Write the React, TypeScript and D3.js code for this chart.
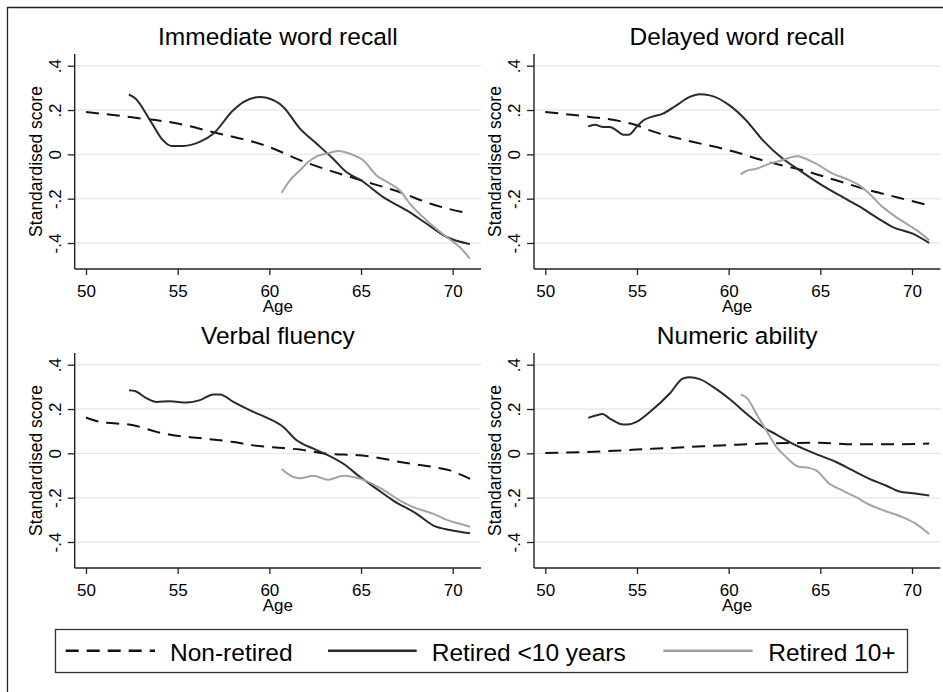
import React, { useRef, useEffect } from "react";
import * as d3 from "d3";

const panelTitles = ["Immediate word recall", "Delayed word recall", "Verbal fluency", "Numeric ability"];
const seriesNames = ["Non-retired", "Retired <10 years", "Retired 10+"];
const xTicks = [50, 55, 60, 65, 70];
const yTicks = [0.4, 0.2, 0, -0.2, -0.4];
const yTickLabels = [".4", ".2", "0", "-.2", "-.4"];

// [age, standardised score]
const immediateNonRetired = [
  [50, 0.191], [52.6, 0.166], [55, 0.139], [56.9, 0.101], [60, 0.033], [61.7, -0.027],
  [65, -0.117], [67.1, -0.17], [68.8, -0.223], [70.94, -0.268],
];
const immediateRetired = [
  [52.34, 0.27], [52.67, 0.254], [53.5, 0.153], [54.2, 0.063], [54.67, 0.038], [55.3, 0.038],
  [56.2, 0.056], [56.94, 0.093], [58.03, 0.199], [58.58, 0.236], [59.49, 0.259], [59.85, 0.255],
  [60.76, 0.214], [61.67, 0.116], [62.58, 0.048], [63.48, -0.02], [64.2, -0.08], [65, -0.117],
  [66.21, -0.193], [67.49, -0.253], [68.58, -0.313], [69.67, -0.373], [70.94, -0.405],
];
const immediateRetired10 = [
  [60.67, -0.173], [61.12, -0.117], [61.67, -0.072], [62.12, -0.035], [62.58, -0.009], [63.12, 0.003],
  [63.76, 0.015], [64.39, 0.003], [65.12, -0.027], [65.85, -0.095], [66.58, -0.132], [67.12, -0.163],
  [67.67, -0.223], [68.58, -0.298], [69.67, -0.373], [70.39, -0.419], [70.94, -0.471],
];

const delayedNonRetired = [
  [50, 0.191], [52.43, 0.169], [54.07, 0.15], [54.97, 0.131], [55.7, 0.108], [57.7, 0.063],
  [60.05, 0.018], [62.2, -0.035], [64.05, -0.072], [65.86, -0.117], [67.7, -0.163], [68.77, -0.185],
  [69.85, -0.208], [70.94, -0.23],
];
const delayedRetired = [
  [52.34, 0.126], [52.7, 0.134], [53.16, 0.123], [53.52, 0.123], [53.88, 0.108], [54.25, 0.089],
  [54.57, 0.089], [54.97, 0.123], [55.34, 0.153], [55.79, 0.169], [56.42, 0.184], [57.15, 0.221],
  [57.88, 0.259], [58.42, 0.271], [58.97, 0.266], [60.05, 0.221], [60.96, 0.153], [61.87, 0.063],
  [62.96, -0.02], [63.87, -0.072], [64.95, -0.132], [66.22, -0.193], [67.13, -0.235], [68.04, -0.283],
  [68.95, -0.328], [70.04, -0.358], [70.94, -0.4],
];
const delayedRetired10 = [
  [60.65, -0.09], [60.96, -0.075], [61.5, -0.065], [62.23, -0.042], [62.78, -0.03], [63.32, -0.015],
  [63.77, -0.009], [64.05, -0.015], [64.77, -0.042], [65.68, -0.087], [66.4, -0.11], [67.13, -0.14],
  [67.68, -0.178], [68.4, -0.238], [69.13, -0.283], [69.85, -0.321], [70.4, -0.351], [70.94, -0.388],
];

const fluencyNonRetired = [
  [50, 0.162], [50.76, 0.142], [52.58, 0.127], [53.85, 0.097], [54.76, 0.082], [56.2, 0.069],
  [58.04, 0.051], [59.13, 0.036], [60.76, 0.024], [61.67, 0.017], [63.13, -0.002], [64.95, -0.009],
  [66.22, -0.024], [67.13, -0.039], [68.95, -0.062], [69.85, -0.077], [70.4, -0.095], [70.95, -0.115],
];
const fluencyRetired = [
  [52.35, 0.285], [52.67, 0.281], [53.31, 0.248], [53.85, 0.232], [54.58, 0.235], [55.49, 0.229],
  [56.22, 0.24], [56.95, 0.266], [57.3, 0.266], [58.04, 0.232], [59.13, 0.187], [59.67, 0.168],
  [60.76, 0.119], [61.49, 0.059], [62.4, 0.021], [63.04, -0.002], [64.04, -0.047], [64.95, -0.107],
  [65.85, -0.16], [66.76, -0.213], [68.04, -0.273], [68.95, -0.326], [69.85, -0.346], [70.95, -0.361],
];
const fluencyRetired10 = [
  [60.67, -0.071], [61.31, -0.107], [61.67, -0.112], [62.4, -0.101], [63.2, -0.119], [64.04, -0.101],
  [64.58, -0.107], [65.31, -0.125], [66.22, -0.165], [67.13, -0.213], [67.85, -0.243], [68.95, -0.273],
  [69.67, -0.3], [70.4, -0.318], [70.95, -0.331],
];

const numericNonRetired = [
  [50, 0.002], [53.16, 0.009], [54.97, 0.017], [56.79, 0.024], [58.6, 0.032], [60.42, 0.039],
  [61.87, 0.044], [63.68, 0.047], [64.95, 0.048], [66.77, 0.041], [68.58, 0.041], [70.94, 0.044],
];
const numericRetired = [
  [52.34, 0.16], [52.8, 0.172], [53.12, 0.177], [53.52, 0.157], [54.25, 0.13], [54.61, 0.131],
  [54.97, 0.142], [55.7, 0.187], [56.79, 0.27], [57.51, 0.338], [57.88, 0.343], [58.42, 0.335],
  [59.15, 0.3], [60.05, 0.245], [60.96, 0.18], [61.87, 0.119], [62.6, 0.085], [63.68, 0.036],
  [64.95, -0.009], [65.86, -0.039], [66.77, -0.077], [67.68, -0.115], [68.58, -0.145], [69.31, -0.172],
  [70.04, -0.18], [70.94, -0.19],
];
const numericRetired10 = [
  [60.65, 0.266], [61.05, 0.245], [61.5, 0.18], [62.05, 0.104], [62.6, 0.029], [63.14, -0.017],
  [63.77, -0.059], [64.4, -0.066], [64.77, -0.077], [65.5, -0.137], [66.22, -0.168], [66.95, -0.198],
  [67.68, -0.232], [68.58, -0.261], [69.49, -0.288], [70.22, -0.318], [70.94, -0.364],
];

const panelData = [
  [immediateNonRetired, immediateRetired, immediateRetired10],
  [delayedNonRetired, delayedRetired, delayedRetired10],
  [fluencyNonRetired, fluencyRetired, fluencyRetired10],
  [numericNonRetired, numericRetired, numericRetired10],
];

const seriesStyles = [
  { color: "#111111", dash: "13,8" },
  { color: "#2a2a2a", dash: null },
  { color: "#a3a3a3", dash: null },
];

const FONT = "'Liberation Sans', Arial, Helvetica, sans-serif";

const App = () => {
  const chartRef = useRef<SVGSVGElement>(null);

  useEffect(() => {
    if (!chartRef.current) return;
    const width = 943;
    const height = 692;
    const colStep = 459.3;
    const rowStep = 299;
    const axisX = 74.7;
    const plotRight = 481;
    const axisTop = 54;
    const axisBottom = 269;

    const svg = d3.select(chartRef.current);
    svg.selectAll("*").remove();

    svg.append("rect").attr("width", width).attr("height", height).attr("fill", "#fff");
    // outer graph frame (only top and left edges fall inside the picture)
    svg.append("path")
      .attr("d", `M7.5,${height + 5}V7.5H${width + 5}`)
      .attr("fill", "none")
      .attr("stroke", "#222")
      .attr("stroke-width", 1.3);

    const x = d3.scaleLinear().domain([50, 70]).range([86, 452.7]);
    const y = d3.scaleLinear().domain([-0.4, 0.4]).range([243, 65.7]);
    const line = d3.line<number[]>()
      .x(d => x(d[0]))
      .y(d => y(d[1]))
      .curve(d3.curveMonotoneX);

    panelData.forEach((series, i) => {
      const col = i % 2;
      const row = Math.floor(i / 2);
      const g = svg.append("g").attr("transform", `translate(${col * colStep},${row * rowStep})`);
      const midX = (axisX + plotRight) / 2;

      // grid lines
      g.append("g")
        .selectAll("line")
        .data(yTicks)
        .join("line")
        .attr("x1", axisX)
        .attr("x2", plotRight)
        .attr("y1", d => y(d))
        .attr("y2", d => y(d))
        .attr("stroke", "#e3ebee")
        .attr("stroke-width", 1.4);

      // y axis
      const ya = g.append("g")
        .attr("transform", `translate(${axisX},0)`)
        .call(d3.axisLeft(y).tickValues(yTicks).tickSize(7).tickSizeOuter(0)
          .tickFormat((d, j) => yTickLabels[j]));
      ya.select(".domain").remove();
      ya.append("line").attr("y1", axisTop).attr("y2", axisBottom).attr("stroke", "#222").attr("stroke-width", 1.4);
      ya.selectAll(".tick line").attr("stroke", "#222").attr("stroke-width", 1.3);
      ya.selectAll(".tick text")
        .attr("x", 0)
        .attr("dy", 0)
        .attr("text-anchor", "middle")
        .attr("transform", "translate(-14,0) rotate(-90)")
        .attr("fill", "#000")
        .attr("font-size", 17)
        .attr("font-family", FONT);

      // x axis
      const xa = g.append("g")
        .attr("transform", `translate(0,${axisBottom})`)
        .call(d3.axisBottom(x).tickValues(xTicks).tickSize(6).tickSizeOuter(0));
      xa.select(".domain").remove();
      xa.append("line").attr("x1", axisX).attr("x2", plotRight).attr("stroke", "#222").attr("stroke-width", 1.4);
      xa.selectAll(".tick line").attr("stroke", "#222").attr("stroke-width", 1.3);
      xa.selectAll(".tick text")
        .attr("y", 28)
        .attr("dy", 0)
        .attr("fill", "#000")
        .attr("font-size", 17)
        .attr("font-family", FONT);

      // series lines
      series.forEach((pts, s) => {
        g.append("path")
          .datum(pts)
          .attr("fill", "none")
          .attr("stroke", seriesStyles[s].color)
          .attr("stroke-width", 2)
          .attr("stroke-dasharray", seriesStyles[s].dash)
          .attr("stroke-linejoin", "round")
          .attr("d", line);
      });

      // titles
      g.append("text")
        .attr("x", midX)
        .attr("y", 45)
        .attr("text-anchor", "middle")
        .attr("font-size", 24.5)
        .attr("font-family", FONT)
        .text(panelTitles[i]);

      g.append("text")
        .attr("x", midX)
        .attr("y", 311.5)
        .attr("text-anchor", "middle")
        .attr("font-size", 17)
        .attr("font-family", FONT)
        .text("Age");

      g.append("text")
        .attr("transform", `translate(41.7,${(axisTop + axisBottom) / 2}) rotate(-90)`)
        .attr("text-anchor", "middle")
        .attr("font-size", 17.5)
        .attr("font-family", FONT)
        .text("Standardised score");
    });

    // legend
    const legend = svg.append("g");
    legend.append("rect")
      .attr("x", 55.5)
      .attr("y", 629.5)
      .attr("width", 852)
      .attr("height", 43)
      .attr("fill", "#fff")
      .attr("stroke", "#333")
      .attr("stroke-width", 1.3);
    const keyX = [[65.7, 155], [328, 416.7], [663.3, 752.7]];
    const labelX = [170, 431.7, 768.3];
    seriesNames.forEach((name, s) => {
      legend.append("line")
        .attr("x1", keyX[s][0])
        .attr("x2", keyX[s][1])
        .attr("y1", 650.7)
        .attr("y2", 650.7)
        .attr("stroke", seriesStyles[s].color)
        .attr("stroke-width", 2.4)
        .attr("stroke-dasharray", seriesStyles[s].dash);
      legend.append("text")
        .attr("x", labelX[s])
        .attr("y", 661)
        .attr("font-size", 24.5)
        .attr("font-family", FONT)
        .text(name);
    });
  }, []);

  return (
    <svg
      ref={chartRef}
      width={943}
      height={692}
      style={{ position: "absolute", left: 0, top: 0, display: "block" }}
    />
  );
};

export default App;
